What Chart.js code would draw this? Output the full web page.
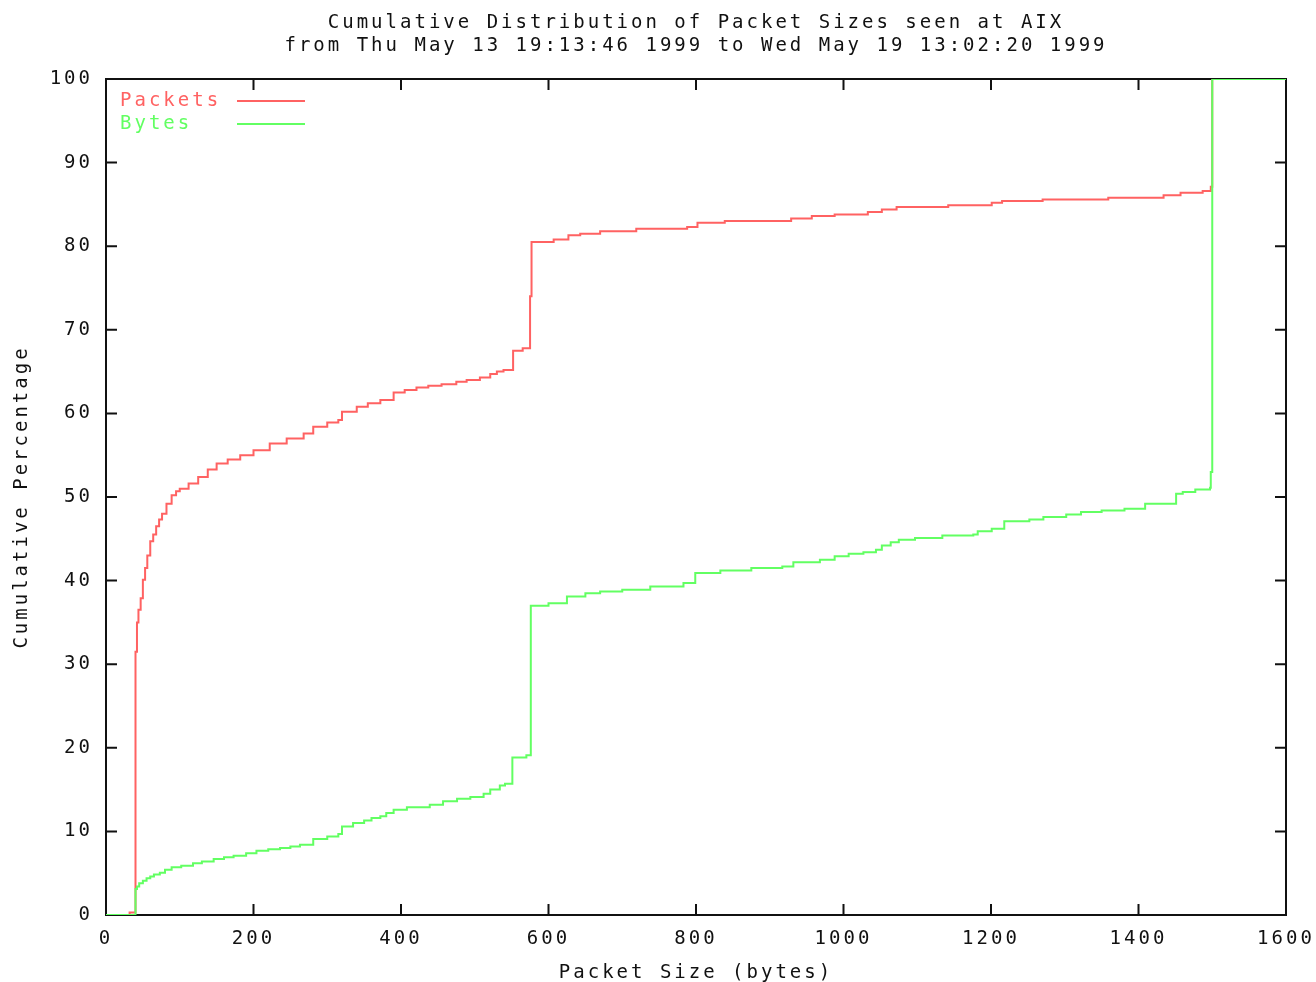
<!DOCTYPE html>
<html>
<head>
<meta charset="utf-8">
<script src="https://cdn.jsdelivr.net/npm/chart.js@4/dist/chart.umd.min.js"></script>
<style>
  html, body { margin: 0; padding: 0; background: #ffffff; }
  #wrap { width: 1316px; height: 982px; }
</style>
</head>
<body>
<div id="wrap"><canvas id="c" width="1316" height="982"></canvas></div>
<script>
// ---- data ----
const titleLines = [
  'Cumulative Distribution of Packet Sizes seen at AIX',
  'from Thu May 13 19:13:46 1999 to Wed May 19 13:02:20 1999'
];
const xAxisTitle = 'Packet Size (bytes)';
const yAxisTitle = 'Cumulative Percentage';
const seriesNames = ['Packets', 'Bytes'];
const xTickStep = 200;
const yTickStep = 10;

// Packets CDF: packet size (bytes) -> cumulative %
const pktSize = [0, 32, 40, 42, 44, 47, 50, 53, 56, 60, 64, 68, 72, 76, 82, 89, 95, 100, 112, 125,
  138, 150, 165, 182, 200, 222, 245, 268, 281, 300, 315, 320, 340, 355, 372, 390, 405, 421, 437, 455,
  475, 489, 507, 521, 530, 539, 552, 565, 575, 577, 607, 627, 643, 670, 719, 788, 802, 839, 929, 957,
  988, 1033, 1052, 1072, 1142, 1201, 1215, 1270, 1359, 1434, 1457, 1487, 1498, 1500, 1600];
const pktPct = [0, 0.3, 31.5, 35, 36.5, 37.9, 40.1, 41.5, 43, 44.7, 45.5, 46.5, 47.3, 48.0, 49.2, 50.2, 50.7, 51.0, 51.6, 52.4,
  53.3, 54.0, 54.5, 55.0, 55.6, 56.4, 57.0, 57.6, 58.4, 58.9, 59.2, 60.2, 60.8, 61.2, 61.6, 62.5, 62.8, 63.1, 63.3, 63.5,
  63.8, 64.0, 64.3, 64.7, 65.0, 65.2, 67.5, 67.8, 74.0, 80.5, 80.8, 81.3, 81.5, 81.8, 82.1, 82.3, 82.8, 83.0, 83.3, 83.6,
  83.8, 84.1, 84.4, 84.7, 84.9, 85.2, 85.4, 85.6, 85.8, 86.1, 86.4, 86.6, 87.1, 100, 100];

// Bytes CDF: packet size (bytes) -> cumulative %
const byteSize = [0, 40, 42, 45, 50, 55, 60, 65, 73, 80, 89, 102, 118, 130, 146, 160, 173, 190, 204, 220,
  236, 250, 263, 281, 300, 315, 320, 335, 350, 360, 372, 380, 390, 408, 439, 457, 476, 494, 512, 521,
  534, 541, 551, 570, 576, 600, 625, 650, 670, 700, 738, 783, 799, 833, 875, 917, 932, 968, 988, 1007,
  1027, 1044, 1052, 1064, 1075, 1097, 1134, 1176, 1182, 1201, 1218, 1252, 1271, 1302, 1322, 1350, 1381, 1409, 1451, 1460,
  1477, 1497, 1498, 1500, 1600];
const bytePct = [0, 3.1, 3.4, 3.8, 4.1, 4.4, 4.6, 4.85, 5.05, 5.4, 5.7, 5.9, 6.2, 6.4, 6.7, 6.9, 7.1, 7.4, 7.7, 7.85,
  8.0, 8.2, 8.4, 9.1, 9.4, 9.7, 10.6, 11.0, 11.3, 11.6, 11.8, 12.2, 12.6, 12.9, 13.2, 13.6, 13.9, 14.1, 14.5, 15.0,
  15.5, 15.7, 18.85, 19.1, 37.0, 37.3, 38.1, 38.5, 38.7, 38.9, 39.3, 39.7, 40.9, 41.2, 41.5, 41.7, 42.2, 42.5, 42.9, 43.2,
  43.4, 43.7, 44.2, 44.6, 44.9, 45.1, 45.4, 45.5, 45.9, 46.2, 47.1, 47.3, 47.6, 47.9, 48.2, 48.4, 48.6, 49.2, 50.4, 50.6,
  50.9, 51.1, 53.0, 100, 100];

// ---- styling ----
const RED = '#ff6262';
const GREEN = '#62ff62';
const INK = '#111111';
const FONT = '"DejaVu Sans Mono", "Liberation Mono", monospace';
const LETTER_SPACING = '3px';

const spacingPlugin = {
  id: 'spacing',
  beforeUpdate(chart) { chart.ctx.letterSpacing = LETTER_SPACING; },
  beforeLayout(chart) { chart.ctx.letterSpacing = LETTER_SPACING; },
  beforeDraw(chart) { chart.ctx.letterSpacing = LETTER_SPACING; }
};

const framePlugin = {
  id: 'frame',
  beforeDatasetsDraw(chart) {
    const {ctx, chartArea: a, scales} = chart;
    const tl = 11;
    ctx.save();
    ctx.strokeStyle = INK;
    ctx.lineWidth = 2;
    ctx.strokeRect(a.left, a.top, a.right - a.left, a.bottom - a.top);
    ctx.beginPath();
    scales.x.ticks.forEach(t => {
      const px = scales.x.getPixelForValue(t.value);
      ctx.moveTo(px, a.bottom); ctx.lineTo(px, a.bottom - tl);
      ctx.moveTo(px, a.top); ctx.lineTo(px, a.top + tl);
    });
    scales.y.ticks.forEach(t => {
      const py = scales.y.getPixelForValue(t.value);
      ctx.moveTo(a.left, py); ctx.lineTo(a.left + tl, py);
      ctx.moveTo(a.right, py); ctx.lineTo(a.right - tl, py);
    });
    ctx.stroke();
    ctx.restore();
  },
  afterDatasetsDraw(chart) {
    // gnuplot-style key: text first, then a line sample
    const {ctx, chartArea: a} = chart;
    ctx.save();
    ctx.letterSpacing = LETTER_SPACING;
    ctx.font = '19px ' + FONT;
    ctx.textAlign = 'left';
    ctx.textBaseline = 'middle';
    chart.data.datasets.forEach((ds, i) => {
      const y = a.top + 22 + i * 23;
      ctx.fillStyle = ds.borderColor;
      ctx.fillText(ds.label, a.left + 14, y);
      ctx.strokeStyle = ds.borderColor;
      ctx.lineWidth = 2;
      ctx.beginPath();
      ctx.moveTo(a.left + 131, y);
      ctx.lineTo(a.left + 199, y);
      ctx.stroke();
    });
    ctx.restore();
  }
};

const plainNumber = v => String(v);

new Chart(document.getElementById('c'), {
  type: 'line',
  data: {
    datasets: [
      {
        label: seriesNames[0],
        data: pktSize.map((x, i) => ({x: x, y: pktPct[i]})),
        borderColor: RED,
        backgroundColor: RED,
        borderWidth: 2,
        pointRadius: 0,
        stepped: 'before',
        fill: false,
        order: 1
      },
      {
        label: seriesNames[1],
        data: byteSize.map((x, i) => ({x: x, y: bytePct[i]})),
        borderColor: GREEN,
        backgroundColor: GREEN,
        borderWidth: 2,
        pointRadius: 0,
        stepped: 'before',
        fill: false,
        order: 0
      }
    ]
  },
  options: {
    responsive: false,
    animation: false,
    events: [],
    layout: {padding: {left: 0, right: 30, top: 0, bottom: 0}},
    plugins: {
      legend: {display: false},
      tooltip: {enabled: false},
      title: {
        display: true,
        text: titleLines,
        fullSize: false,
        color: INK,
        font: {family: FONT, size: 19, weight: 'normal', lineHeight: '23px'},
        padding: {top: 11.5, bottom: 21.5}
      }
    },
    scales: {
      x: {
        type: 'linear',
        min: 0,
        max: 1600,
        grid: {display: false, drawTicks: false},
        border: {display: false},
        ticks: {
          stepSize: xTickStep,
          color: INK,
          padding: 13,
          maxRotation: 0,
          callback: plainNumber,
          font: {family: FONT, size: 19, lineHeight: '23px'}
        },
        title: {
          display: true,
          text: xAxisTitle,
          color: INK,
          font: {family: FONT, size: 19, lineHeight: '23px'},
          padding: {top: 0, bottom: -3}
        },
        afterFit(scale) {
          scale.height = 67;
          scale.paddingLeft = 0;
          scale.paddingRight = 0;
        }
      },
      y: {
        type: 'linear',
        min: 0,
        max: 100,
        grid: {display: false, drawTicks: false},
        border: {display: false},
        ticks: {
          stepSize: yTickStep,
          color: INK,
          padding: 13,
          callback: plainNumber,
          font: {family: FONT, size: 19, lineHeight: '23px'}
        },
        title: {
          display: true,
          text: yAxisTitle,
          color: INK,
          font: {family: FONT, size: 19, lineHeight: '23px'},
          padding: {top: 11, bottom: 0}
        },
        afterFit(scale) {
          scale.width = 106;
          scale.paddingTop = 0;
          scale.paddingBottom = 0;
        }
      }
    }
  },
  plugins: [spacingPlugin, framePlugin]
});
</script>
</body>
</html>
